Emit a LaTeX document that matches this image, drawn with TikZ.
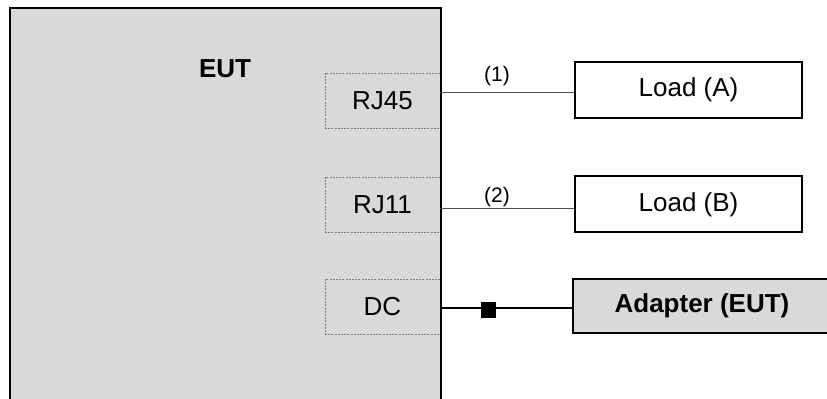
\documentclass[tikz,border=0pt]{standalone}
\usepackage{fontspec}
\setmainfont{Liberation Sans}
\definecolor{boxgray}{HTML}{D9D9D9}
\definecolor{linegray}{HTML}{505050}
\definecolor{dashgray}{HTML}{808080}
\begin{document}
\begin{tikzpicture}[x=0.5pt,y=-0.5pt,
  maintext/.style={font=\fontsize{13}{15}\selectfont},
  labeltext/.style={font=\fontsize{10.5}{12}\selectfont, inner sep=0pt},
  portbox/.style={draw=dashgray, line width=0.4pt, dash pattern=on 1pt off 0.6pt,
    minimum width=57.5pt, minimum height=27.5pt, inner sep=0pt, maintext},
  loadbox/.style={draw=black, line width=1pt, fill=white,
    minimum width=113.5pt, minimum height=28pt, inner sep=0pt, maintext},
  thinline/.style={draw=linegray, line width=0.5pt},
  dcline/.style={draw=black, line width=0.7pt}]
\useasboundingbox (0,0) rectangle (827,399);
\clip (0,0) rectangle (827,399);
% EUT body
\node[fill=boxgray, anchor=north west, minimum width=215pt, minimum height=210pt,
  inner sep=0pt] (eut) at (10,8) {};
\node[maintext, font=\fontsize{13}{15}\selectfont\bfseries] (euttext) at (225,69) {EUT};
% ports
\node[portbox] (rj45) at (382.5,100.5) {RJ45};
\node[portbox] (rj11) at (382.5,204.5) {RJ11};
\node[portbox] (dc) at (382.5,306.5) {DC};
\draw[line width=1pt] (eut.south west) rectangle (eut.north east);
% loads
\node[loadbox] (loada) at (688.5,90) {Load (A)};
\node[loadbox] (loadb) at (688.5,204.5) {Load (B)};
\node[loadbox, fill=boxgray, minimum width=129pt, minimum height=27pt,
  font=\fontsize{13}{15}\selectfont\bfseries] (adapter) at (702,306) {Adapter (EUT)};
% connectors
\coordinate (c1) at (440,93);
\coordinate (c2) at (440,209);
\coordinate (c3) at (440,308);
\draw[thinline] (c1) -- (c1 -| loada.west);
\draw[thinline] (c2) -- (c2 -| loadb.west);
\draw[dcline] (c3) -- (c3 -| adapter.west);
\node[fill=black, minimum width=7.5pt, minimum height=8pt, inner sep=0pt] (sq) at (488.5,310) {};
\node[labeltext] (l1) at (497,76) {(1)};
\node[labeltext] (l2) at (497,197.5) {(2)};
\end{tikzpicture}
\end{document}
